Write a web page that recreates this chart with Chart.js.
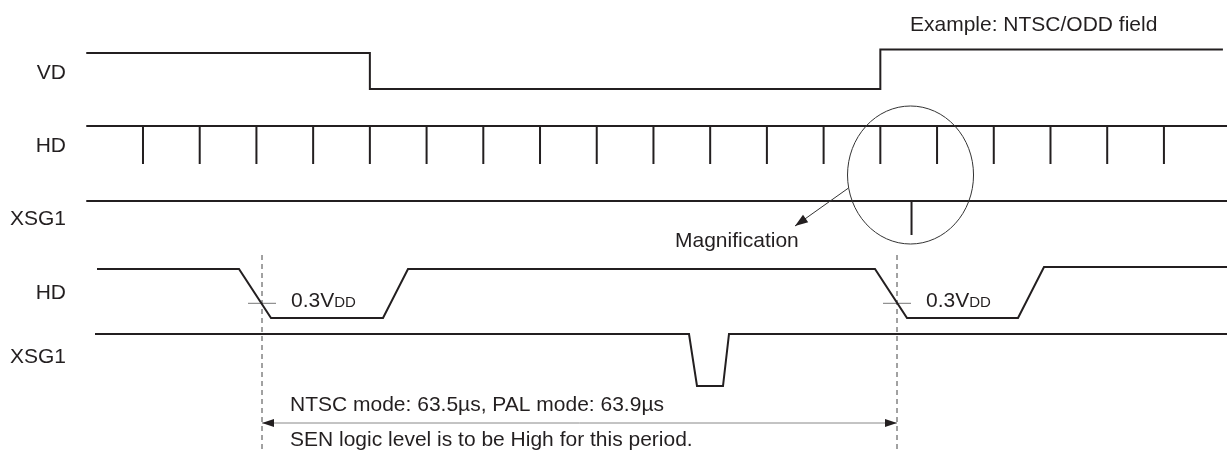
<!DOCTYPE html>
<html>
<head>
<meta charset="utf-8">
<script src="https://cdn.jsdelivr.net/npm/chart.js@4.4.1/dist/chart.umd.min.js"></script>
<style>
  html, body { margin: 0; padding: 0; background: #fff; }
  #wrap { width: 1227px; height: 453px; }
</style>
</head>
<body>
<div id="wrap"><canvas id="timing" width="1227" height="453"></canvas></div>
<script>
// === Vista general: tiempo en periodos H ===
const hdPulses = [0, 1, 2, 3, 4, 5, 6, 7, 8, 9, 10, 11, 12, 13, 14, 15, 16, 17, 18];
const vdTimes = [-1.0, 4, 4, 13, 13, 19.04];
const vdLevels = [1, 1, 0, 0, 1.1, 1.1];
const xsgTimes = [-1.0, 13.55, 13.55, 13.55, 19.2];
const xsgLevels = [1, 1, 0, 1, 1];
const overviewSpan = [-1.0, 19.2];

// === Vista ampliada: tiempo en µs ===
const hdMagTimes = [-16.5, -2.3, 0.9, 12.1, 14.6, 61.3, 64.5, 75.6, 78.2, 96.6];
const hdMagLevels = [1, 1, 0, 0, 1, 1, 0, 0, 1.04, 1.04];
const xsgMagTimes = [-16.7, 42.7, 43.5, 46.1, 46.7, 96.6];
const xsgMagLevels = [1, 1, 0, 0, 1, 1];
const thresholdLevel = 0.3;
const periodMarks = [0, 63.5];

// === Textos ===
const signalLabels = ["VD", "HD", "XSG1", "HD", "XSG1"];
const periodText = "NTSC mode: 63.5µs, PAL mode: 63.9µs";
const senText = "SEN logic level is to be High for this period.";

// posiciones de cada señal (px): línea baja y amplitud
const lanes = {
  vd: { base: 89, amp: 36, label: 79 },
  hd: { base: 164, amp: 38, label: 152 },
  xsg: { base: 235, amp: 34, label: 225 },
  hdMag: { base: 318, amp: 49, label: 299 },
  xsgMag: { base: 386, amp: 52, label: 363 },
};
const laneOrder = ["vd", "hd", "xsg", "hdMag", "xsgMag"];
const INK = "#231f20";

const Y = (lane, lvl) => lanes[lane].base - lvl * lanes[lane].amp;
const wave = (times, levels, lane) => times.map((t, i) => ({ x: t, y: Y(lane, levels[i]) }));

const hdTicks = hdPulses.flatMap(h => [
  { x: h, y: Y("hd", 1) }, { x: h, y: Y("hd", 0) }, { x: h, y: null },
]);
const markerLines = periodMarks.flatMap(t => [{ x: t, y: 255 }, { x: t, y: 453 }, { x: t, y: null }]);
const crossLines = periodMarks.flatMap(t => [
  { x: t - 1.4, y: Y("hdMag", thresholdLevel) },
  { x: t + 1.4, y: Y("hdMag", thresholdLevel) },
  { x: t, y: null },
]);

const base = { pointRadius: 0, borderColor: INK, borderWidth: 2, fill: false, tension: 0, yAxisID: "y", spanGaps: false };

const datasets = [
  { ...base, xAxisID: "xTop", data: wave(vdTimes, vdLevels, "vd") },
  { ...base, xAxisID: "xTop", data: overviewSpan.map(t => ({ x: t, y: Y("hd", 1) })) },
  { ...base, xAxisID: "xTop", data: hdTicks },
  { ...base, xAxisID: "xTop", data: wave(xsgTimes, xsgLevels, "xsg") },
  { ...base, xAxisID: "xMag", data: wave(hdMagTimes, hdMagLevels, "hdMag") },
  { ...base, xAxisID: "xMag", data: wave(xsgMagTimes, xsgMagLevels, "xsgMag") },
  { ...base, xAxisID: "xMag", data: markerLines, borderWidth: 1, borderColor: "#444", borderDash: [5, 4] },
  { ...base, xAxisID: "xMag", data: crossLines, borderWidth: 1, borderColor: "#777" },
  { ...base, xAxisID: "xMag", data: periodMarks.map(t => ({ x: t, y: 423 })), borderWidth: 1, borderColor: "#888" },
];

// textos, elipse y flechas
const extras = {
  id: "extras",
  afterDatasetsDraw(chart) {
    const { ctx, scales } = chart;
    const font = (s) => `${s}px "Liberation Sans", Arial, sans-serif`;
    ctx.save();
    ctx.fillStyle = INK;
    ctx.textBaseline = "alphabetic";

    ctx.font = font(21);
    ctx.textAlign = "right";
    laneOrder.forEach((k, i) => ctx.fillText(signalLabels[i], 66, lanes[k].label));

    ctx.textAlign = "left";
    ctx.fillText("Example: NTSC/ODD field", 910, 31);
    ctx.fillText("Magnification", 675, 247);
    ctx.fillText(periodText, 290, 411);
    ctx.fillText(senText, 290, 446);

    // 0.3VDD
    periodMarks.forEach(t => {
      const x = scales.xMag.getPixelForValue(t) + 29;
      ctx.font = font(21);
      ctx.fillText("0.3V", x, 307);
      const w = ctx.measureText("0.3V").width;
      ctx.font = font(15);
      ctx.fillText("DD", x + w, 307);
    });

    // elipse de ampliación
    const cx = scales.xTop.getPixelForValue(xsgTimes[1]) - 1;
    ctx.strokeStyle = "#333";
    ctx.lineWidth = 1;
    ctx.beginPath();
    ctx.ellipse(cx, 175, 63, 69, 0, 0, Math.PI * 2);
    ctx.stroke();

    const arrowHead = (x, y, ang, len, half) => {
      ctx.beginPath();
      ctx.moveTo(x, y);
      ctx.lineTo(x - len * Math.cos(ang) + half * Math.sin(ang), y - len * Math.sin(ang) - half * Math.cos(ang));
      ctx.lineTo(x - len * Math.cos(ang) - half * Math.sin(ang), y - len * Math.sin(ang) + half * Math.cos(ang));
      ctx.closePath();
      ctx.fill();
    };

    // flecha hacia "Magnification"
    const sx = cx - 62, sy = 188, tx = 795, ty = 226;
    ctx.beginPath();
    ctx.moveTo(sx, sy);
    ctx.lineTo(tx, ty);
    ctx.stroke();
    arrowHead(tx, ty, Math.atan2(ty - sy, tx - sx), 13, 4.5);

    // flechas del periodo
    const x0 = scales.xMag.getPixelForValue(periodMarks[0]);
    const x1 = scales.xMag.getPixelForValue(periodMarks[1]);
    arrowHead(x0, 423, Math.PI, 12, 4);
    arrowHead(x1, 423, 0, 12, 4);
    ctx.restore();
  },
};

new Chart(document.getElementById("timing"), {
  type: "line",
  data: { datasets },
  options: {
    responsive: false,
    animation: false,
    events: [],
    layout: { padding: 0 },
    plugins: { legend: { display: false }, tooltip: { enabled: false } },
    elements: { line: { borderCapStyle: "butt", borderJoinStyle: "miter" } },
    scales: {
      xTop: { type: "linear", display: false, min: -2.521, max: 19.112 },
      xMag: { type: "linear", display: false, min: -26.2, max: 96.5 },
      y: { type: "linear", display: false, min: 0, max: 453, reverse: true },
    },
  },
  plugins: [extras],
});
</script>
</body>
</html>
